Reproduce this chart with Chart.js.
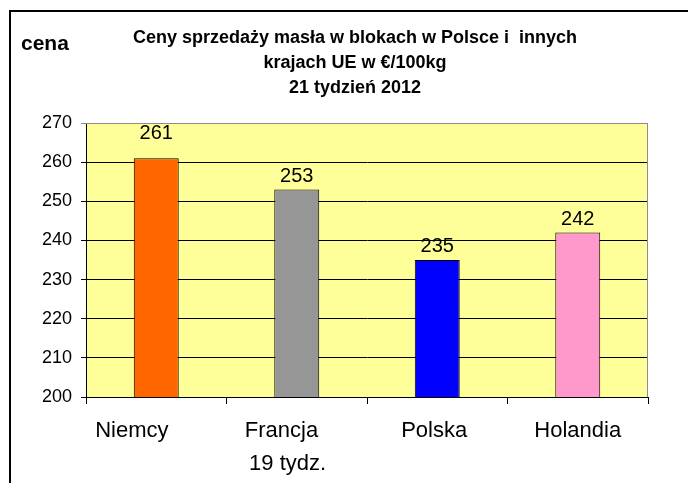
<!DOCTYPE html>
<html>
<head>
<meta charset="utf-8">
<script src="https://cdn.jsdelivr.net/npm/chart.js@4"></script>
<style>
  html, body { margin: 0; padding: 0; background: #fff; }
  #wrap { position: relative; width: 688px; height: 483px; }
</style>
</head>
<body>
<div id="wrap"><canvas id="chart" width="688" height="483"></canvas></div>
<script>
const categories = ['Niemcy', ['Francja', '19 tydz.'], 'Polska', 'Holandia'];
const prices = [261, 253, 235, 242];
const barColors = ['#FF6600', '#969696', '#0000FF', '#FF99CC'];
const yTickMin = 200;
const yTickMax = 270;
const yTickStep = 10;
const titleLines = ['Ceny sprzedaży masła w blokach w Polsce i  innych', 'krajach UE w €/100kg', '21 tydzień 2012'];
const axisLabel = 'cena';

const FONT = '"Liberation Sans", Arial, sans-serif';

// labels in the original sit a bit left of their slots (trailing blanks)
const trailing = [8, [5, 3], 1, 0];
// gap between bar top and its value label (first one is pushed up to the top)
const labelGap = [20, 8, 8, 8];

const plotDecor = {
    id: 'plotDecor',
    beforeDraw(chart) {
        const { ctx, chartArea: a } = chart;
        ctx.save();
        ctx.fillStyle = '#FFFF99';
        ctx.fillRect(a.left, a.top, a.right - a.left, a.bottom - a.top);
        ctx.restore();
    },
    afterDraw(chart) {
        const { ctx, chartArea: a } = chart;
        ctx.save();
        // plot border top/right
        ctx.strokeStyle = '#8c8c8c';
        ctx.lineWidth = 1;
        ctx.beginPath();
        ctx.moveTo(a.left, a.top + 0.5);
        ctx.lineTo(a.right - 0.5, a.top + 0.5);
        ctx.lineTo(a.right - 0.5, a.bottom);
        ctx.stroke();

        // value labels
        ctx.fillStyle = '#000';
        ctx.font = '20px ' + FONT;
        ctx.textAlign = 'center';
        ctx.textBaseline = 'alphabetic';
        chart.getDatasetMeta(0).data.forEach((bar, i) => {
            const y = Math.max(bar.y - labelGap[i], a.top + 16);
            ctx.fillText(String(prices[i]), bar.x, y);
        });

        // "cena"
        ctx.font = 'bold 21px ' + FONT;
        ctx.textAlign = 'left';
        ctx.fillText(axisLabel, 21, 50);

        // outer frame (left + top)
        ctx.strokeStyle = '#000';
        ctx.lineWidth = 2;
        ctx.beginPath();
        ctx.moveTo(10, chart.height);
        ctx.lineTo(10, 11);
        ctx.lineTo(chart.width, 11);
        ctx.stroke();
        ctx.restore();
    }
};

new Chart(document.getElementById('chart'), {
    type: 'bar',
    data: {
        labels: categories,
        datasets: [{
            data: prices,
            backgroundColor: barColors,
            borderColor: '#000',
            borderWidth: 1,
            barPercentage: 0.32,
            categoryPercentage: 1
        }]
    },
    options: {
        responsive: false,
        animation: false,
        layout: { padding: { left: 22, right: 0, top: 0, bottom: 0 } },
        plugins: {
            legend: { display: false },
            tooltip: { enabled: false },
            title: {
                display: true,
                text: titleLines,
                color: '#000',
                font: { family: FONT, size: 18, weight: 'bold', lineHeight: '25px' },
                padding: { top: 26, bottom: 22 }
            }
        },
        scales: {
            x: {
                grid: { display: true, drawOnChartArea: false, drawTicks: true, tickLength: 7, color: '#000', offset: true },
                border: { display: true, color: '#000', width: 1 },
                ticks: {
                    color: '#000',
                    font: { family: FONT, size: 22, lineHeight: 1.5 },
                    padding: 10,
                    maxRotation: 0,
                    autoSkip: false,
                    callback(value, index) {
                        const lab = categories[index];
                        const pad = trailing[index];
                        if (Array.isArray(lab)) {
                            return lab.map((l, k) => l + ' '.repeat(pad[k]));
                        }
                        return lab + ' '.repeat(pad);
                    }
                },
                afterFit(scale) { scale.height = 86; }
            },
            y: {
                min: yTickMin,
                max: yTickMax,
                grid: {
                    color: (c) => (c.tick && c.tick.value === yTickMax ? '#8c8c8c' : '#000'),
                    tickLength: 5,
                    drawTicks: true
                },
                border: { display: true, color: '#000', width: 1 },
                ticks: {
                    stepSize: yTickStep,
                    color: '#000',
                    font: { family: FONT, size: 18 },
                    padding: 9
                },
                afterFit(scale) { scale.width = 64; }
            },
            yRight: {
                type: 'linear',
                position: 'right',
                display: true,
                grid: { display: false },
                border: { display: false },
                ticks: { display: false },
                afterFit(scale) { scale.width = 40; }
            }
        }
    },
    plugins: [plotDecor]
});
</script>
</body>
</html>
